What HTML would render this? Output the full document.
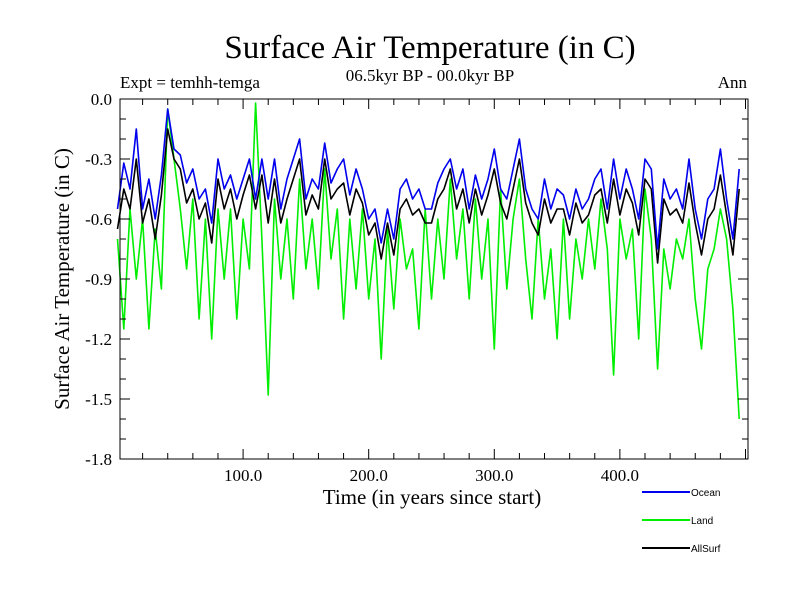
<!DOCTYPE html>
<html><head><meta charset="utf-8"><style>
body{margin:0;background:#fff;}
svg text{font-family:"Liberation Serif",serif;}
svg text.leg{font-family:"Liberation Sans",sans-serif;}
</style></head><body>
<svg id="chart" width="800" height="600" xmlns="http://www.w3.org/2000/svg">
<rect width="800" height="600" fill="#fff"/>
<text x="430" y="58" font-size="33" text-anchor="middle">Surface Air Temperature (in C)</text>
<text x="430" y="81" font-size="17" text-anchor="middle">06.5kyr BP - 00.0kyr BP</text>
<text x="120" y="88" font-size="17">Expt = temhh-temga</text>
<text x="747" y="88" font-size="17" text-anchor="end">Ann</text>
<text transform="translate(69,279) rotate(-90)" font-size="21" text-anchor="middle">Surface Air Temperature (in C)</text>
<text x="432" y="504" font-size="21" text-anchor="middle">Time (in years since start)</text>
<g id="plot"></g>
<g id="axes"></g>
<g id="legend"></g>
</svg>
<script>
const years = [];
for (let i = 0; i < 100; i++) years.push(i * 5);
const ocean = [-0.55,-0.32,-0.45,-0.15,-0.55,-0.4,-0.6,-0.38,-0.05,-0.25,
-0.28,-0.42,-0.35,-0.5,-0.45,-0.62,-0.3,-0.45,-0.38,-0.5,
-0.4,-0.3,-0.5,-0.3,-0.5,-0.3,-0.55,-0.4,-0.3,-0.2,
-0.5,-0.4,-0.45,-0.22,-0.42,-0.35,-0.3,-0.48,-0.35,-0.45,
-0.6,-0.55,-0.72,-0.55,-0.7,-0.45,-0.4,-0.5,-0.45,-0.55,
-0.55,-0.42,-0.35,-0.3,-0.45,-0.35,-0.55,-0.38,-0.5,-0.4,
-0.25,-0.45,-0.5,-0.35,-0.2,-0.45,-0.55,-0.6,-0.4,-0.55,
-0.45,-0.48,-0.6,-0.45,-0.55,-0.5,-0.4,-0.35,-0.55,-0.3,
-0.5,-0.35,-0.45,-0.6,-0.3,-0.35,-0.75,-0.4,-0.5,-0.45,
-0.55,-0.3,-0.55,-0.7,-0.5,-0.45,-0.25,-0.5,-0.7,-0.35];
const land = [-0.7,-1.15,-0.55,-0.9,-0.6,-1.15,-0.65,-0.95,-0.05,-0.3,
-0.55,-0.85,-0.5,-1.1,-0.6,-1.2,-0.55,-0.9,-0.55,-1.1,
-0.6,-0.85,-0.02,-0.7,-1.48,-0.5,-0.9,-0.6,-1.0,-0.4,
-0.85,-0.6,-0.95,-0.35,-0.8,-0.55,-1.1,-0.6,-0.95,-0.55,
-1.0,-0.7,-1.3,-0.65,-1.05,-0.6,-0.85,-0.75,-1.15,-0.55,
-1.0,-0.6,-0.9,-0.4,-0.8,-0.55,-1.0,-0.5,-0.9,-0.6,
-1.25,-0.45,-0.95,-0.6,-0.4,-0.8,-1.1,-0.6,-1.0,-0.75,
-1.2,-0.6,-1.1,-0.7,-0.9,-0.6,-0.85,-0.5,-0.75,-1.38,
-0.6,-0.8,-0.65,-1.2,-0.45,-0.7,-1.35,-0.75,-0.95,-0.7,
-0.8,-0.6,-1.0,-1.25,-0.85,-0.75,-0.55,-0.7,-1.05,-1.6];
const allsurf = [-0.65,-0.45,-0.55,-0.3,-0.62,-0.5,-0.7,-0.48,-0.15,-0.3,
-0.35,-0.52,-0.45,-0.6,-0.52,-0.72,-0.4,-0.55,-0.45,-0.6,
-0.48,-0.38,-0.55,-0.38,-0.62,-0.4,-0.62,-0.5,-0.4,-0.3,
-0.58,-0.48,-0.55,-0.3,-0.5,-0.45,-0.42,-0.58,-0.45,-0.52,
-0.68,-0.62,-0.8,-0.62,-0.78,-0.55,-0.5,-0.58,-0.55,-0.62,
-0.62,-0.5,-0.45,-0.35,-0.55,-0.45,-0.62,-0.45,-0.58,-0.48,
-0.35,-0.52,-0.6,-0.45,-0.3,-0.52,-0.62,-0.68,-0.5,-0.62,
-0.55,-0.55,-0.68,-0.52,-0.62,-0.58,-0.48,-0.45,-0.62,-0.4,
-0.58,-0.45,-0.52,-0.68,-0.4,-0.45,-0.82,-0.5,-0.58,-0.55,
-0.62,-0.42,-0.62,-0.78,-0.6,-0.55,-0.38,-0.58,-0.78,-0.45];
const yTicks = [0.0,-0.3,-0.6,-0.9,-1.2,-1.5,-1.8];
const yTickLabels = ["0.0","-0.3","-0.6","-0.9","-1.2","-1.5","-1.8"];
const xTicks = [100,200,300,400];
const xTickLabels = ["100.0","200.0","300.0","400.0"];

const NS = "http://www.w3.org/2000/svg";
const L = 120, R = 748, T = 99, B = 459;
const X0 = 2, X1 = 502, Y0 = -1.8, Y1 = 0.0;
function xs(v){ return L + (v - X0) / (X1 - X0) * (R - L); }
function ys(v){ return B - (v - Y0) / (Y1 - Y0) * (B - T); }
function mk(tag, attrs, parent){ const e = document.createElementNS(NS, tag); for (const k in attrs) e.setAttribute(k, attrs[k]); parent.appendChild(e); return e; }

const plot = document.getElementById('plot');
function series(vals, color, name){
  const d = vals.map((v,i)=> (i?'L':'M') + xs(years[i]).toFixed(1) + ',' + ys(v).toFixed(1)).join('');
  const p = mk('path', {d:d, fill:'none', stroke:color, 'stroke-width':'1.6', 'stroke-linejoin':'round'}, plot);
  
  
}
series(land, '#00ee00', 'land-line');
series(allsurf, '#000000', 'allsurf-line');
series(ocean, '#0000ee', 'ocean-line');

const axes = document.getElementById('axes');
const frame = mk('rect', {x:L, y:T, width:R-L, height:B-T, fill:'none', stroke:'#000', 'stroke-width':'1'}, axes);


for (let k = 0; k <= 18; k++) {
  const y = ys(-k/10);
  const len = (k % 3 === 0) ? 10 : 6;
  mk('line', {x1:L, x2:L+len, y1:y, y2:y, stroke:'#000'}, axes);
  mk('line', {x1:R, x2:R-len, y1:y, y2:y, stroke:'#000'}, axes);
}
yTicks.forEach((v,i)=>{
  const t = mk('text', {x:L-8, y:ys(v)+6, 'font-size':'17', 'text-anchor':'end'}, axes);
  t.textContent = yTickLabels[i];
  
  
});
for (let v = 20; v <= 500; v += 20) {
  const x = xs(v);
  const len = (v % 100 === 0) ? 10 : 6;
  mk('line', {x1:x, x2:x, y1:B, y2:B-len, stroke:'#000'}, axes);
  mk('line', {x1:x, x2:x, y1:T, y2:T+len, stroke:'#000'}, axes);
}
xTicks.forEach((v,i)=>{
  const t = mk('text', {x:xs(v), y:B+22, 'font-size':'17', 'text-anchor':'middle'}, axes);
  t.textContent = xTickLabels[i];
  
  
});

const legend = document.getElementById('legend');
const legNames = ["Ocean","Land","AllSurf"];
const legColors = ['#0000ee','#00ee00','#000000'];
legNames.forEach((n,i)=>{
  const y = 492 + i*28;
  const g = mk('g', {}, legend);
  
  
  mk('line', {x1:642, x2:690, y1:y, y2:y, stroke:legColors[i], 'stroke-width':'2'}, g);
  const t = mk('text', {x:691, y:y+4, 'font-size':'10', 'class':'leg'}, g);
  t.textContent = n;
});
</script>
</body></html>
